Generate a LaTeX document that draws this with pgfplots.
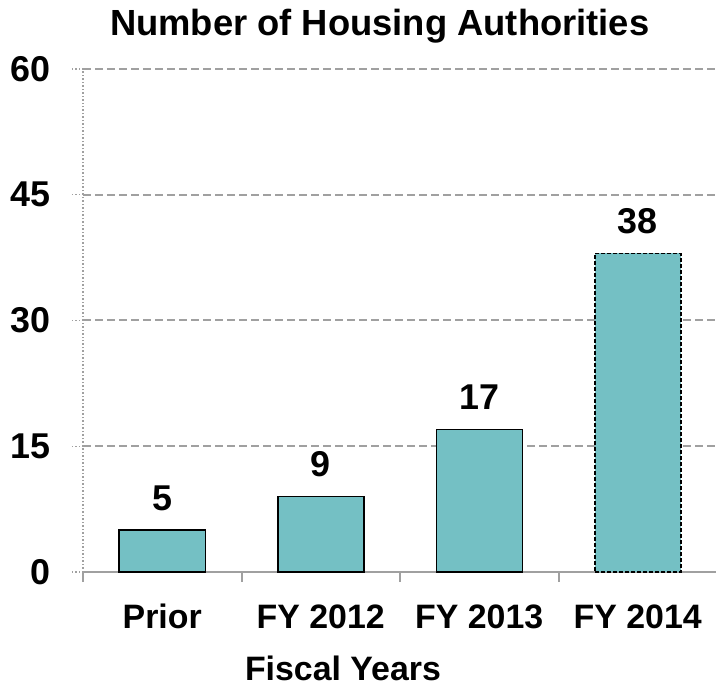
\documentclass[border=0pt]{standalone}
\usepackage{fontspec}
\setmainfont{Liberation Sans}
\usepackage{pgfplots}
\pgfplotsset{compat=1.18}
\definecolor{barteal}{HTML}{74C0C4}
\definecolor{gridgray}{HTML}{A0A0A0}

\begin{document}
\begin{tikzpicture}
\begin{axis}[
    scale only axis,
    width=634bp, height=503bp,
    xmin=-0.5, xmax=3.5,
    ymin=0, ymax=60,
    axis x line*=bottom,
    axis y line*=left,
    x axis line style={-, gridgray, line width=2bp},
    y axis line style={-, gridgray, line width=1.5bp, dotted},
    xtick={0,1,2,3},
    xticklabels={Prior, FY 2012, FY 2013, FY 2014},
    major x tick style={draw=none},
    minor xtick={-0.5,0.5,1.5,2.5,3.5},
    minor x tick style={gridgray, line width=2bp},
    minor tick length=10bp,
    ytick={0,15,30,45,60},
    y tick style={gridgray, line width=1.5bp, dotted},
    major tick length=11bp,
    tick align=outside,
    ymajorgrids,
    grid style={gridgray, line width=2bp, dash pattern=on 8bp off 4bp},
    /pgf/number format/assume math mode=true,
    xticklabel style={font=\bfseries\fontsize{34}{40}\selectfont, anchor=base, yshift=-45bp},
    yticklabel style={font=\bfseries\fontsize{36}{42}\selectfont, anchor=east, xshift=-18bp},
    title={Number of Housing Authorities},
    title style={font=\bfseries\fontsize{36.5}{42}\selectfont, at={(rel axis cs:0.468,1)}, anchor=base, yshift=28bp},
    xlabel={Fiscal Years},
    xlabel style={font=\bfseries\fontsize{34}{40}\selectfont, at={(rel axis cs:0.41,0)}, anchor=base, yshift=-108bp},
    ybar, bar width=86bp, bar shift=0pt,
    nodes near coords,
    every node near coord/.append style={font=\bfseries\fontsize{36}{42}\selectfont, anchor=base, yshift=20bp, inner sep=0pt},
    clip=false,
]
\addplot[fill=barteal, draw=black, line width=1.5bp] coordinates {(0,5) (1,9) (2,17)};
\addplot[fill=barteal, draw=black, line width=1.5bp, dash pattern=on 4bp off 2bp] coordinates {(3,38)};
\end{axis}
\pgfresetboundingbox
\path (current axis.south west) ++(-83bp,-124bp) rectangle ++(716bp,696bp);
\end{tikzpicture}
\end{document}
